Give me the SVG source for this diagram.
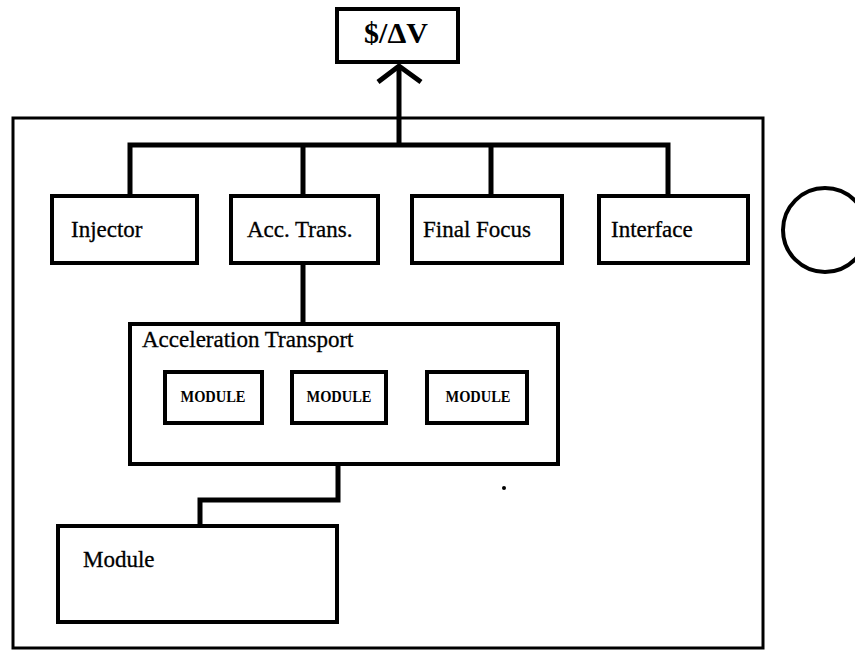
<svg xmlns="http://www.w3.org/2000/svg" width="855" height="651" viewBox="0 0 855 651">
<style>
.box{fill:#fff;stroke:#000;stroke-width:4}
.line{fill:none;stroke:#000;stroke-width:5;stroke-linecap:butt;stroke-linejoin:miter}
.t{font-family:"Liberation Serif","Times New Roman",serif;font-size:23px;fill:#000;stroke:#000;stroke-width:0.3}
.m{font-family:"Liberation Serif","Times New Roman",serif;font-size:17px;font-weight:bold;fill:#000}
</style>
<rect width="855" height="651" fill="#fff"/>
<g id="outer"><rect x="13" y="118" width="750" height="530" fill="none" stroke="#000" stroke-width="3"/></g>
<g id="connectors">
<path class="line" d="M399 66 V145"/>
<path class="line" d="M378 82 L399 66 L421 82" stroke-width="7" stroke-linecap="round"/>
<path class="line" d="M130 195 V145 H668 V195"/>
<path class="line" d="M303 145 V195"/>
<path class="line" d="M491 145 V195"/>
<path class="line" d="M303 263 V323"/>
<path class="line" d="M338 423 V500 H200 V525"/>
</g>
<g id="cost"><rect class="box" x="337" y="9" width="121" height="53"/><text x="396" y="43" text-anchor="middle" style="font-family:'Liberation Serif','Times New Roman',serif;font-size:30px;font-weight:bold">$/ΔV</text></g>
<g id="injector"><rect class="box" x="52" y="196" width="145" height="67"/><text class="t" x="71" y="237">Injector</text></g>
<g id="acctrans"><rect class="box" x="231" y="196" width="147" height="67"/><text class="t" x="247" y="237">Acc. Trans.</text></g>
<g id="finalfocus"><rect class="box" x="412" y="196" width="150" height="67"/><text class="t" x="423" y="237">Final Focus</text></g>
<g id="interface"><rect class="box" x="599" y="196" width="149" height="67"/><text class="t" x="611" y="237">Interface</text></g>
<g id="circle"><circle cx="825" cy="230" r="42" fill="none" stroke="#000" stroke-width="4"/></g>
<g id="acceleration-transport"><rect class="box" x="130" y="324" width="428" height="140"/><text class="t" x="142" y="347">Acceleration Transport</text></g>
<g id="module1"><rect class="box" x="165" y="372" width="97" height="51"/><text class="m" x="213" y="402" text-anchor="middle" textLength="65" lengthAdjust="spacingAndGlyphs">MODULE</text></g>
<g id="module2"><rect class="box" x="292" y="372" width="94" height="51"/><text class="m" x="339" y="402" text-anchor="middle" textLength="65" lengthAdjust="spacingAndGlyphs">MODULE</text></g>
<g id="module3"><rect class="box" x="427" y="372" width="100" height="51"/><text class="m" x="478" y="402" text-anchor="middle" textLength="65" lengthAdjust="spacingAndGlyphs">MODULE</text></g>
<g id="module"><rect class="box" x="58" y="526" width="279" height="96"/><text class="t" x="83" y="567">Module</text></g>
<circle cx="504" cy="488" r="2" fill="#000"/>
</svg>
